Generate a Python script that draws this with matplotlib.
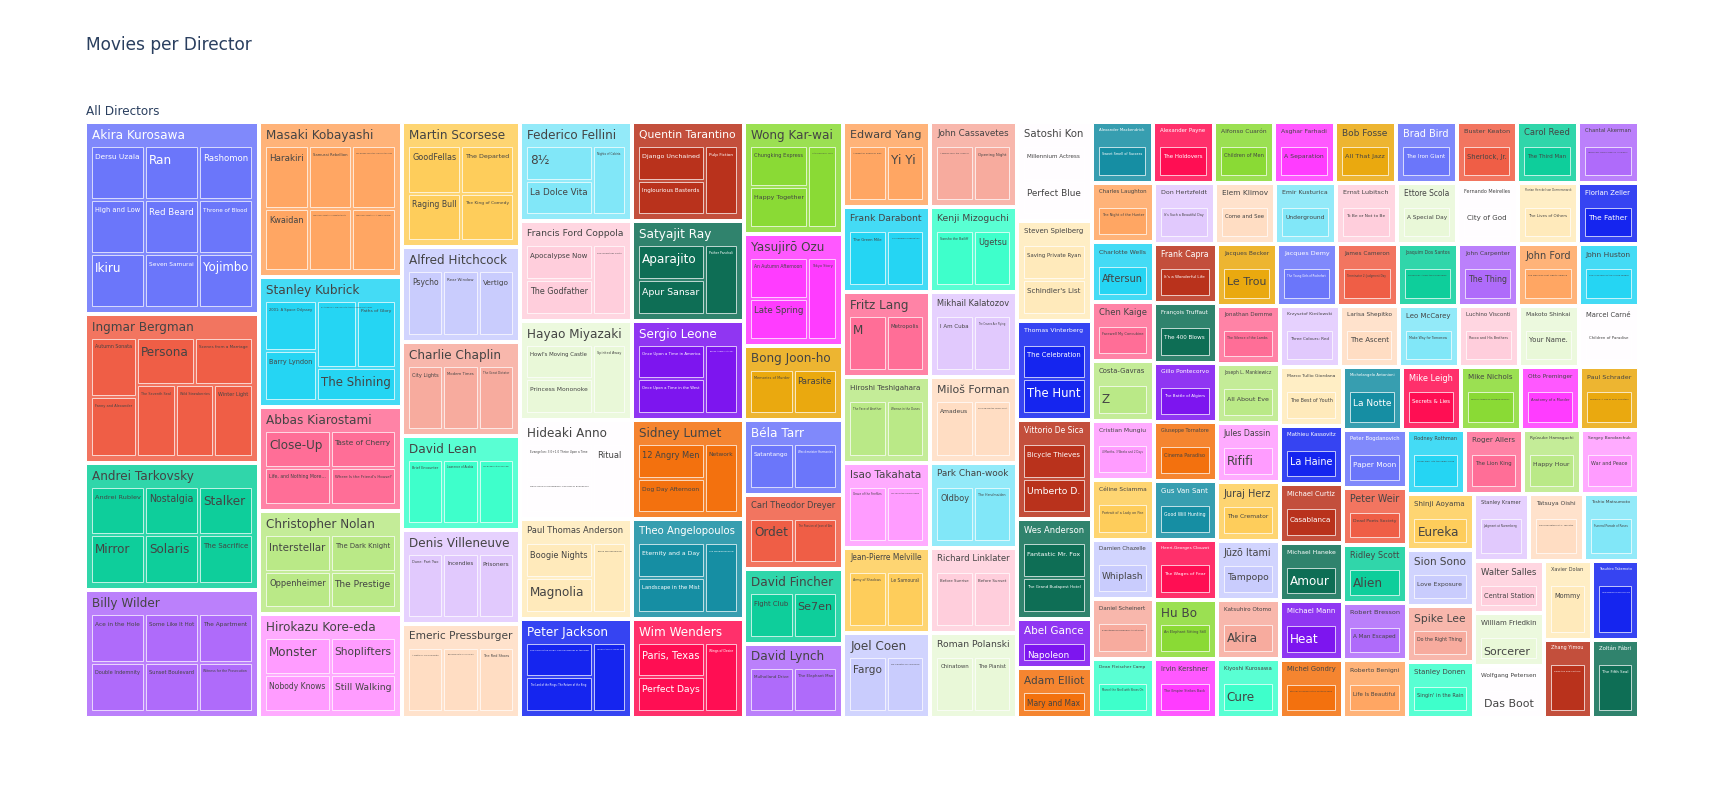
import colorsys
import matplotlib
matplotlib.use('Agg')
import matplotlib.pyplot as plt
from matplotlib.patches import Rectangle
from matplotlib.colors import to_rgb
from matplotlib.font_manager import FontProperties

# 数据: 导演 -> 电影
directors = [
    'Akira Kurosawa', 'Ingmar Bergman', 'Andrei Tarkovsky', 'Billy Wilder', 'Masaki Kobayashi',
    'Stanley Kubrick', 'Abbas Kiarostami', 'Christopher Nolan', 'Hirokazu Kore-eda', 'Martin Scorsese',
    'Alfred Hitchcock', 'Charlie Chaplin', 'David Lean', 'Denis Villeneuve', 'Emeric Pressburger',
    'Federico Fellini', 'Francis Ford Coppola', 'Hayao Miyazaki', 'Hideaki Anno', 'Paul Thomas Anderson',
    'Peter Jackson', 'Quentin Tarantino', 'Satyajit Ray', 'Sergio Leone', 'Sidney Lumet',
    'Theo Angelopoulos', 'Wim Wenders', 'Wong Kar-wai', 'Yasujirō Ozu',
    'Bong Joon-ho', 'Béla Tarr', 'Carl Theodor Dreyer', 'David Fincher', 'David Lynch', 'Edward Yang',
    'Frank Darabont', 'Fritz Lang', 'Hiroshi Teshigahara', 'Isao Takahata', 'Jean-Pierre Melville',
    'Joel Coen', 'John Cassavetes', 'Kenji Mizoguchi', 'Mikhail Kalatozov', 'Miloš Forman',
    'Park Chan-wook', 'Richard Linklater', 'Roman Polanski', 'Satoshi Kon', 'Steven Spielberg',
    'Thomas Vinterberg', 'Vittorio De Sica', 'Wes Anderson',
    'Abel Gance', 'Adam Elliot', 'Alexander Mackendrick', 'Alexander Payne', 'Alfonso Cuarón',
    'Asghar Farhadi', 'Bob Fosse', 'Brad Bird', 'Buster Keaton', 'Carol Reed', 'Chantal Akerman',
    'Charles Laughton', 'Charlotte Wells', 'Chen Kaige', 'Costa-Gavras', 'Cristian Mungiu',
    'Céline Sciamma', 'Damien Chazelle', 'Daniel Scheinert', 'Dean Fleischer Camp', 'Don Hertzfeldt',
    'Elem Klimov', 'Emir Kusturica', 'Ernst Lubitsch', 'Ettore Scola', 'Fernando Meirelles',
    'Florian Henckel von Donnersmarck', 'Florian Zeller', 'Frank Capra', 'François Truffaut',
    'Gillo Pontecorvo', 'Giuseppe Tornatore', 'Gus Van Sant', 'Henri-Georges Clouzot', 'Hu Bo',
    'Irvin Kershner', 'Jacques Becker', 'Jacques Demy', 'James Cameron', 'Joaquim Dos Santos',
    'John Carpenter', 'John Ford', 'John Huston', 'Jonathan Demme', 'Joseph L. Mankiewicz',
    'Jules Dassin', 'Juraj Herz', 'Jūzō Itami', 'Katsuhiro Otomo', 'Kiyoshi Kurosawa',
    'Krzysztof Kieślowski', 'Larisa Shepitko', 'Leo McCarey', 'Luchino Visconti', 'Makoto Shinkai',
    'Marcel Carné', 'Marco Tullio Giordana', 'Mathieu Kassovitz', 'Michael Curtiz', 'Michael Haneke',
    'Michael Mann', 'Michel Gondry', 'Michelangelo Antonioni', 'Mike Leigh', 'Mike Nichols',
    'Otto Preminger', 'Paul Schrader', 'Peter Bogdanovich', 'Peter Weir', 'Ridley Scott',
    'Robert Bresson', 'Roberto Benigni', 'Rodney Rothman', 'Roger Allers', 'Ryûsuke Hamaguchi',
    'Sergey Bondarchuk', 'Shinji Aoyama', 'Sion Sono', 'Spike Lee', 'Stanley Donen', 'Stanley Kramer',
    'Tatsuya Oishi', 'Toshio Matsumoto', 'Walter Salles', 'William Friedkin', 'Wolfgang Petersen',
    'Xavier Dolan', 'Yasuhiro Takemoto', 'Zhang Yimou', 'Zoltán Fábri',
]

movies = [
    ['Dersu Uzala', 'High and Low', 'Ikiru', 'Ran', 'Rashomon', 'Red Beard', 'Seven Samurai',
     'Throne of Blood', 'Yojimbo'],
    ['Autumn Sonata', 'Fanny and Alexander', 'Persona', 'Scenes from a Marriage', 'The Seventh Seal',
     'Wild Strawberries', 'Winter Light'],
    ['Andrei Rublev', 'Mirror', 'Nostalgia', 'Solaris', 'Stalker', 'The Sacrifice'],
    ['Ace in the Hole', 'Double Indemnity', 'Some Like It Hot', 'Sunset Boulevard', 'The Apartment',
     'Witness for the Prosecution'],
    ['Harakiri', 'Kwaidan', 'Samurai Rebellion', 'The Human Condition I: No Greater Love',
     'The Human Condition II: Road to Eternity', "The Human Condition III: A Soldier's Prayer"],
    ['2001: A Space Odyssey', 'Barry Lyndon',
     'Dr. Strangelove or: How I Learned to Stop Worrying and Love the Bomb', 'Paths of Glory', 'The Shining'],
    ['Close-Up', 'Life, and Nothing More...', 'Taste of Cherry', "Where Is the Friend's House?"],
    ['Interstellar', 'Oppenheimer', 'The Dark Knight', 'The Prestige'],
    ['Monster', 'Nobody Knows', 'Shoplifters', 'Still Walking'],
    ['GoodFellas', 'Raging Bull', 'The Departed', 'The King of Comedy'],
    ['Psycho', 'Rear Window', 'Vertigo'],
    ['City Lights', 'Modern Times', 'The Great Dictator'],
    ['Brief Encounter', 'Lawrence of Arabia', 'The Bridge on the River Kwai'],
    ['Dune: Part Two', 'Incendies', 'Prisoners'],
    ['A Matter of Life and Death', 'The Life and Death of Colonel Blimp', 'The Red Shoes'],
    ['8½', 'La Dolce Vita', 'Nights of Cabiria'],
    ['Apocalypse Now', 'The Godfather', 'The Godfather Part II'],
    ["Howl's Moving Castle", 'Princess Mononoke', 'Spirited Away'],
    ['Evangelion: 3.0+1.0 Thrice Upon a Time', 'Neon Genesis Evangelion: The End of Evangelion', 'Ritual'],
    ['Boogie Nights', 'Magnolia', 'There Will Be Blood'],
    ['The Lord of the Rings: The Fellowship of the Ring', 'The Lord of the Rings: The Return of the King',
     'The Lord of the Rings: The Two Towers'],
    ['Django Unchained', 'Inglourious Basterds', 'Pulp Fiction'],
    ['Aparajito', 'Apur Sansar', 'Pather Panchali'],
    ['Once Upon a Time in America', 'Once Upon a Time in the West', 'The Good, the Bad and the Ugly'],
    ['12 Angry Men', 'Dog Day Afternoon', 'Network'],
    ['Eternity and a Day', 'Landscape in the Mist', 'The Weeping Meadow'],
    ['Paris, Texas', 'Perfect Days', 'Wings of Desire'],
    ['Chungking Express', 'Happy Together', 'In the Mood for Love'],
    ['An Autumn Afternoon', 'Late Spring', 'Tokyo Story'],
    ['Memories of Murder', 'Parasite'],
    ['Satantango', 'Werckmeister Harmonies'],
    ['Ordet', 'The Passion of Joan of Arc'],
    ['Fight Club', 'Se7en'],
    ['Mulholland Drive', 'The Elephant Man'],
    ['A Brighter Summer Day', 'Yi Yi'],
    ['The Green Mile', 'The Shawshank Redemption'],
    ['M', 'Metropolis'],
    ['The Face of Another', 'Woman in the Dunes'],
    ['Grave of the Fireflies', 'The Tale of the Princess Kaguya'],
    ['Army of Shadows', 'Le Samouraï'],
    ['Fargo', 'No Country for Old Men'],
    ['A Woman Under the Influence', 'Opening Night'],
    ['Sansho the Bailiff', 'Ugetsu'],
    ['I Am Cuba', 'The Cranes Are Flying'],
    ['Amadeus', "One Flew Over the Cuckoo's Nest"],
    ['Oldboy', 'The Handmaiden'],
    ['Before Sunrise', 'Before Sunset'],
    ['Chinatown', 'The Pianist'],
    ['Millennium Actress', 'Perfect Blue'],
    ['Saving Private Ryan', "Schindler's List"],
    ['The Celebration', 'The Hunt'],
    ['Bicycle Thieves', 'Umberto D.'],
    ['Fantastic Mr. Fox', 'The Grand Budapest Hotel'],
    ['Napoleon'], ['Mary and Max'], ['Sweet Smell of Success'], ['The Holdovers'], ['Children of Men'],
    ['A Separation'], ['All That Jazz'], ['The Iron Giant'], ['Sherlock, Jr.'], ['The Third Man'],
    ['Jeanne Dielman, 23 quai du Commerce, 1080 Bruxelles'],
    ['The Night of the Hunter'], ['Aftersun'], ['Farewell My Concubine'], ['Z'],
    ['4 Months, 3 Weeks and 2 Days'], ['Portrait of a Lady on Fire'], ['Whiplash'],
    ['Everything Everywhere All at Once'], ['Marcel the Shell with Shoes On'], ["It's Such a Beautiful Day"],
    ['Come and See'], ['Underground'], ['To Be or Not to Be'], ['A Special Day'], ['City of God'],
    ['The Lives of Others'], ['The Father'], ["It's a Wonderful Life"], ['The 400 Blows'],
    ['The Battle of Algiers'], ['Cinema Paradiso'], ['Good Will Hunting'], ['The Wages of Fear'],
    ['An Elephant Sitting Still'], ['The Empire Strikes Back'], ['Le Trou'],
    ['The Young Girls of Rochefort'], ['Terminator 2: Judgment Day'],
    ['Spider-Man: Across the Spider-Verse'], ['The Thing'], ['The Man Who Shot Liberty Valance'],
    ['The Treasure of the Sierra Madre'], ['The Silence of the Lambs'], ['All About Eve'], ['Rififi'],
    ['The Cremator'], ['Tampopo'], ['Akira'], ['Cure'], ['Three Colours: Red'], ['The Ascent'],
    ['Make Way for Tomorrow'], ['Rocco and His Brothers'], ['Your Name.'], ['Children of Paradise'],
    ['The Best of Youth'], ['La Haine'], ['Casablanca'], ['Amour'], ['Heat'],
    ['Eternal Sunshine of the Spotless Mind'], ['La Notte'], ['Secrets & Lies'],
    ["Who's Afraid of Virginia Woolf?"], ['Anatomy of a Murder'], ['Mishima: A Life in Four Chapters'],
    ['Paper Moon'], ['Dead Poets Society'], ['Alien'], ['A Man Escaped'], ['Life Is Beautiful'],
    ['Spider-Man: Into the Spider-Verse'], ['The Lion King'], ['Happy Hour'], ['War and Peace'],
    ['Eureka'], ['Love Exposure'], ['Do the Right Thing'], ["Singin' in the Rain"],
    ['Judgment at Nuremberg'], ['Kizumonogatari Part 1: Tekketsu'], ['Funeral Parade of Roses'],
    ['Central Station'], ['Sorcerer'], ['Das Boot'], ['Mommy'],
    ['The Disappearance of Haruhi Suzumiya'], ['Raise the Red Lantern'], ['The Fifth Seal'],
]

title = 'Movies per Director'
root_label = 'All Directors'
base_colors = ['#636EFA', '#EF553B', '#00CC96', '#AB63FA', '#FFA15A',
               '#19D3F3', '#FF6692', '#B6E880', '#FF97FF', '#FECB52']

W, H, DPI = 1723, 803, 100
PX = 72 / DPI  # px -> pt
PAD_T, PAD_S, INNER = 24, 6, 3
BASE_FS = 12


def shift_l(c, amt):
    h, l, s = colorsys.rgb_to_hls(*to_rgb(c))
    return colorsys.hls_to_rgb(h, min(1, max(0, l + amt)), s)


colorway = [to_rgb(c) for c in base_colors] + [shift_l(c, 0.2) for c in base_colors] + \
    [shift_l(c, -0.2) for c in base_colors]


def squarify(vals, x0, y0, x1, y1, ratio=1.0):
    # d3 treemapSquarify
    rects = [None] * len(vals)
    value = float(sum(vals))
    i0 = i1 = 0
    n = len(vals)
    while i0 < n:
        dx, dy = x1 - x0, y1 - y0
        s = vals[i1]
        i1 += 1
        lo = hi = s
        alpha = max(dy / dx, dx / dy) / (value * ratio)
        beta = s * s * alpha
        best = max(hi / beta, beta / lo)
        while i1 < n:
            v = vals[i1]
            s2 = s + v
            lo2, hi2 = min(lo, v), max(hi, v)
            beta = s2 * s2 * alpha
            r = max(hi2 / beta, beta / lo2)
            if r > best:
                break
            s, lo, hi, best = s2, lo2, hi2, r
            i1 += 1
        if dx < dy:
            ny = y0 + dy * s / value
            xx = x0
            for k in range(i0, i1):
                w = (x1 - x0) * vals[k] / s
                rects[k] = (xx, y0, xx + w, ny)
                xx += w
            y0 = ny
        else:
            nx = x0 + dx * s / value
            yy = y0
            for k in range(i0, i1):
                h = (y1 - y0) * vals[k] / s
                rects[k] = (x0, yy, nx, yy + h)
                yy += h
            x0 = nx
        value -= s
        i0 = i1
    return rects


def inner_area(r):
    p = INNER / 2
    return (r[0] + PAD_S - p, r[1] + PAD_T - p, r[2] - PAD_S + p, r[3] - PAD_S + p)


def shrink(r):
    p = INNER / 2
    return (r[0] + p, r[1] + p, r[2] - p, r[3] - p)


def text_color(c):
    r, g, b = [v * 255 for v in c]
    return '#444444' if (r * 299 + g * 587 + b * 114) / 1000 >= 128 else '#ffffff'


fig = plt.figure(figsize=(W / DPI, H / DPI), dpi=DPI)
ax = fig.add_axes([0, 0, 1, 1])
ax.set_xlim(0, W)
ax.set_ylim(H, 0)
ax.axis('off')
renderer = fig.canvas.get_renderer()
fprop = FontProperties(family='DejaVu Sans', size=BASE_FS * PX)


def put_label(r, s, color, header):
    padx = 6 if header else 3
    avail_w = (r[2] - r[0]) - 2 * padx
    avail_h = (PAD_T if header else (r[3] - r[1])) - 6
    if avail_w <= 0 or avail_h <= 0:
        return
    tw, th, td = renderer.get_text_width_height_descent(s, fprop, ismath=False)
    scale = min(1.0, avail_w / tw, avail_h / (BASE_FS * 1.2))
    fs = BASE_FS * scale
    off = 3 + BASE_FS * scale if header else 4 + BASE_FS * scale
    ax.text(r[0] + padx, r[1] + off, s, fontsize=fs * PX, color=color,
            family='DejaVu Sans', va='baseline', ha='left', zorder=5)


# 排序: 数量降序, 同数按名字
order = sorted(range(len(directors)), key=lambda i: (-len(movies[i]), directors[i]))
names = [directors[i] for i in order]
films = [sorted(movies[i]) for i in order]
counts = [len(f) for f in films]

root = (80, 100, W - 80, H - 80)
ax.text(86, 50, title, fontsize=17 * PX, color='#2a3f5f', family='DejaVu Sans', va='baseline')
put_label(root, root_label, '#2a3f5f', True)

white = (1.0, 1.0, 1.0)
d_rects = squarify(counts, *inner_area(root))
for k, (name, fl) in enumerate(zip(names, films)):
    base = colorway[k % 30]
    dr = shrink(d_rects[k])
    head = tuple(0.1875 * w + 0.8125 * c for w, c in zip(white, base))
    ax.add_patch(Rectangle((dr[0], dr[1]), dr[2] - dr[0], dr[3] - dr[1], facecolor=head,
                           edgecolor='white', lw=1 * PX, zorder=2))
    tc = text_color(base)
    put_label(dr, name, tc, True)
    m_rects = squarify([1] * len(fl), *inner_area(dr))
    for mr, film in zip(m_rects, fl):
        mr = shrink(mr)
        ax.add_patch(Rectangle((mr[0], mr[1]), mr[2] - mr[0], mr[3] - mr[1], facecolor=base,
                               edgecolor='white', lw=1 * PX, alpha=0.7, zorder=3))
        put_label(mr, film, tc, False)

fig.savefig('out.png', dpi=DPI)
